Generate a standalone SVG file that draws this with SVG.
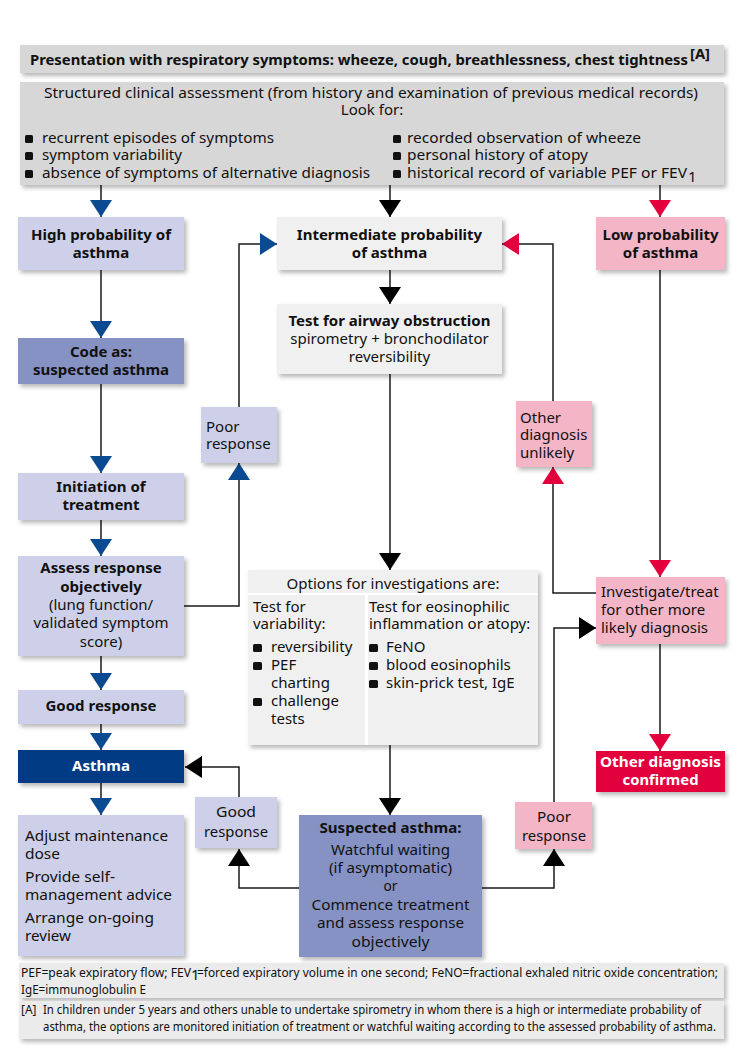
<svg xmlns="http://www.w3.org/2000/svg" width="744" height="1063" viewBox="0 0 744 1063">
<defs>
<filter id="sh" x="-5%" y="-20%" width="115%" height="160%"><feDropShadow dx="2.5" dy="3" stdDeviation="2" flood-color="#000" flood-opacity="0.28"/></filter>
<marker id="ab" markerUnits="userSpaceOnUse" markerWidth="17" markerHeight="22" refX="17" refY="11" orient="auto"><path d="M0,0 L17,11 L0,22 Z" fill="#0b4a91"/></marker>
<marker id="ak" markerUnits="userSpaceOnUse" markerWidth="17" markerHeight="22" refX="17" refY="11" orient="auto"><path d="M0,0 L17,11 L0,22 Z" fill="#000"/></marker>
<marker id="ar" markerUnits="userSpaceOnUse" markerWidth="17" markerHeight="22" refX="17" refY="11" orient="auto"><path d="M0,0 L17,11 L0,22 Z" fill="#e2003d"/></marker>
</defs>
<style>
text{font-family:"Noto Sans","Liberation Sans",sans-serif;font-size:15px;fill:#111}
.b{font-weight:bold}
.c{text-anchor:middle}
.w{fill:#fff}
.s{font-size:12px}
.t{font-size:14.5px}
.box{filter:url(#sh)}
.g{fill:#d7d7d7}
.lg{fill:#f0f0f0}
.lv{fill:#cdd0e8}
.mv{fill:#8691c4}
.nv{fill:#003b84}
.pk{fill:#f4b5c6}
.cr{fill:#e2003d}
.ft{fill:#ebebeb}
.ln{fill:none;stroke:#1a1a1a;stroke-width:1.5}
.mb{marker-end:url(#ab)}
.mk{marker-end:url(#ak)}
.mr{marker-end:url(#ar)}
.bu{fill:#111}
</style>
<rect width="744" height="1063" fill="#fff"/>

<g id="connectors">
<path class="ln mb" d="M101,185 V217"/>
<path class="ln mk" d="M390,185 V217"/>
<path class="ln mr" d="M660,185 V217"/>
<path class="ln mb" d="M101,270 V338"/>
<path class="ln mb" d="M101,384 V473"/>
<path class="ln mb" d="M101,520 V556"/>
<path class="ln mb" d="M101,656 V690"/>
<path class="ln mb" d="M101,724 V750"/>
<path class="ln mb" d="M101,783 V815"/>
<path class="ln mb" d="M184,606 H239 V463"/>
<path class="ln mb" d="M239,407 V244 H277"/>
<path class="ln mk" d="M390,270 V304"/>
<path class="ln mk" d="M390,374 V570"/>
<path class="ln mk" d="M390,745 V815"/>
<path class="ln mk" d="M299,888 H239 V849"/>
<path class="ln mk" d="M239,797 V767 H185"/>
<path class="ln mk" d="M482,888 H554 V849"/>
<path class="ln mk" d="M554,802 V628 H596"/>
<path class="ln mr" d="M660,270 V577"/>
<path class="ln mr" d="M596,593 H553 V467"/>
<path class="ln mr" d="M553,401 V244 H502"/>
<path class="ln mr" d="M660,644 V751"/>
</g>

<g id="presentation">
<rect class="box g" x="20" y="45" width="704" height="28"/>
<text class="b" x="30" y="65" textLength="658" lengthAdjust="spacingAndGlyphs">Presentation with respiratory symptoms: wheeze, cough, breathlessness, chest tightness</text>
<text class="b" x="690" y="59" font-size="8.5" textLength="20" lengthAdjust="spacingAndGlyphs">[A]</text>
</g>

<g id="assessment">
<rect class="box g" x="20" y="82" width="704" height="103"/>
<text x="44" y="98" textLength="654" lengthAdjust="spacingAndGlyphs">Structured clinical assessment (from history and examination of previous medical records)</text>
<text class="c" x="372" y="115">Look for:</text>
<rect class="bu" x="25" y="135" width="8" height="8" rx="1.5"/>
<rect class="bu" x="25" y="152" width="8" height="8" rx="1.5"/>
<rect class="bu" x="25" y="170" width="8" height="8" rx="1.5"/>
<text class="t" x="42" y="143" textLength="232" lengthAdjust="spacingAndGlyphs">recurrent episodes of symptoms</text>
<text class="t" x="42" y="160" textLength="140" lengthAdjust="spacingAndGlyphs">symptom variability</text>
<text class="t" x="42" y="178" textLength="328" lengthAdjust="spacingAndGlyphs">absence of symptoms of alternative diagnosis</text>
<rect class="bu" x="393" y="135" width="8" height="8" rx="1.5"/>
<rect class="bu" x="393" y="152" width="8" height="8" rx="1.5"/>
<rect class="bu" x="393" y="170" width="8" height="8" rx="1.5"/>
<text class="t" x="407" y="143" textLength="234" lengthAdjust="spacingAndGlyphs">recorded observation of wheeze</text>
<text class="t" x="407" y="160" textLength="181" lengthAdjust="spacingAndGlyphs">personal history of atopy</text>
<text class="t" x="407" y="178" textLength="280" lengthAdjust="spacingAndGlyphs">historical record of variable PEF or FEV</text>
<text x="688" y="182" font-size="8.5">1</text>
</g>

<g id="high">
<rect class="box lv" x="18" y="217" width="166" height="53"/>
<text class="b c" x="101" y="240">High probability of</text>
<text class="b c" x="101" y="258">asthma</text>
</g>

<g id="intermediate">
<rect class="box lg" x="277" y="217" width="225" height="53"/>
<text class="b c" x="389.5" y="240">Intermediate probability</text>
<text class="b c" x="389.5" y="258">of asthma</text>
</g>

<g id="low">
<rect class="box pk" x="596" y="217" width="129" height="53"/>
<text class="b c" x="660.5" y="240">Low probability</text>
<text class="b c" x="660.5" y="258">of asthma</text>
</g>

<g id="code">
<rect class="box mv" x="18" y="338" width="166" height="46"/>
<text class="b c" x="101" y="357">Code as:</text>
<text class="b c" x="101" y="375">suspected asthma</text>
</g>

<g id="test-airway">
<rect class="box lg" x="277" y="304" width="225" height="70"/>
<text class="b c" x="389.5" y="326">Test for airway obstruction</text>
<text class="c" x="389.5" y="344">spirometry + bronchodilator</text>
<text class="c" x="389.5" y="362">reversibility</text>
</g>

<g id="poor-top">
<rect class="box lv" x="201" y="407" width="76" height="56"/>
<text x="206" y="432">Poor</text>
<text x="206" y="449">response</text>
</g>

<g id="other-unlikely">
<rect class="box pk" x="516" y="401" width="76" height="66"/>
<text x="520" y="423">Other</text>
<text x="520" y="440">diagnosis</text>
<text x="520" y="458">unlikely</text>
</g>

<g id="initiation">
<rect class="box lv" x="18" y="473" width="166" height="47"/>
<text class="b c" x="101" y="492">Initiation of</text>
<text class="b c" x="101" y="510">treatment</text>
</g>

<g id="assess">
<rect class="box lv" x="18" y="556" width="166" height="100"/>
<text class="b c" x="101" y="573">Assess response</text>
<text class="b c" x="101" y="592">objectively</text>
<text class="c" x="101" y="610">(lung function/</text>
<text class="c" x="101" y="628">validated symptom</text>
<text class="c" x="101" y="647">score)</text>
</g>

<g id="options">
<rect class="box lg" x="248" y="570" width="290" height="175"/>
<rect x="248" y="593" width="290" height="2" fill="#fff"/>
<rect x="365" y="595" width="3" height="150" fill="#fff"/>
<text class="c" x="393" y="589">Options for investigations are:</text>
<text x="253" y="612">Test for</text>
<text x="253" y="629">variability:</text>
<rect class="bu" x="253" y="644" width="9" height="8" rx="1.5"/>
<rect class="bu" x="253" y="662" width="9" height="8" rx="1.5"/>
<rect class="bu" x="253" y="698" width="9" height="8" rx="1.5"/>
<text x="271" y="652">reversibility</text>
<text x="271" y="670">PEF</text>
<text x="271" y="688">charting</text>
<text x="271" y="706">challenge</text>
<text x="271" y="724">tests</text>
<text x="369" y="612">Test for eosinophilic</text>
<text x="369" y="629">inflammation or atopy:</text>
<rect class="bu" x="369" y="644" width="9" height="8" rx="1.5"/>
<rect class="bu" x="369" y="662" width="9" height="8" rx="1.5"/>
<rect class="bu" x="369" y="680" width="9" height="8" rx="1.5"/>
<text x="386" y="652">FeNO</text>
<text x="386" y="670">blood eosinophils</text>
<text x="386" y="688">skin-prick test, IgE</text>
</g>

<g id="investigate">
<rect class="box pk" x="596" y="577" width="129" height="67"/>
<text x="601" y="597">Investigate/treat</text>
<text x="601" y="615">for other more</text>
<text x="601" y="633">likely diagnosis</text>
</g>

<g id="good-top">
<rect class="box lv" x="18" y="690" width="166" height="34"/>
<text class="b c" x="101" y="711">Good response</text>
</g>

<g id="asthma">
<rect class="box nv" x="18" y="750" width="166" height="33"/>
<text class="b c w" x="101" y="771">Asthma</text>
</g>

<g id="other-confirmed">
<rect class="box cr" x="596" y="751" width="129" height="41"/>
<text class="b c w" x="660.5" y="767" textLength="121" lengthAdjust="spacingAndGlyphs">Other diagnosis</text>
<text class="b c w" x="660.5" y="785" textLength="76" lengthAdjust="spacingAndGlyphs">confirmed</text>
</g>

<g id="good-bottom">
<rect class="box lv" x="195" y="797" width="82" height="51"/>
<text class="c" x="236" y="817" textLength="40" lengthAdjust="spacingAndGlyphs">Good</text>
<text class="c" x="236" y="837" textLength="64" lengthAdjust="spacingAndGlyphs">response</text>
</g>

<g id="poor-bottom">
<rect class="box pk" x="515" y="802" width="77" height="47"/>
<text class="c" x="554" y="822" textLength="34" lengthAdjust="spacingAndGlyphs">Poor</text>
<text class="c" x="554" y="841" textLength="64" lengthAdjust="spacingAndGlyphs">response</text>
</g>

<g id="manage">
<rect class="box lv" x="18" y="815" width="166" height="141"/>
<text x="25" y="841" textLength="143" lengthAdjust="spacingAndGlyphs">Adjust maintenance</text>
<text x="25" y="859" textLength="35" lengthAdjust="spacingAndGlyphs">dose</text>
<text x="25" y="882" textLength="90" lengthAdjust="spacingAndGlyphs">Provide self-</text>
<text x="25" y="900" textLength="147" lengthAdjust="spacingAndGlyphs">management advice</text>
<text x="25" y="923" textLength="129" lengthAdjust="spacingAndGlyphs">Arrange on-going</text>
<text x="25" y="941" textLength="46" lengthAdjust="spacingAndGlyphs">review</text>
</g>

<g id="suspected">
<rect class="box mv" x="299" y="815" width="183" height="142"/>
<text class="b c" x="390.5" y="833" textLength="142" lengthAdjust="spacingAndGlyphs">Suspected asthma:</text>
<text class="c" x="390.5" y="855" textLength="119" lengthAdjust="spacingAndGlyphs">Watchful waiting</text>
<text class="c" x="390.5" y="873" textLength="123" lengthAdjust="spacingAndGlyphs">(if asymptomatic)</text>
<text class="c" x="390.5" y="891" textLength="14" lengthAdjust="spacingAndGlyphs">or</text>
<text class="c" x="390.5" y="910" textLength="158" lengthAdjust="spacingAndGlyphs">Commence treatment</text>
<text class="c" x="390.5" y="928" textLength="147" lengthAdjust="spacingAndGlyphs">and assess response</text>
<text class="c" x="390.5" y="947" textLength="78" lengthAdjust="spacingAndGlyphs">objectively</text>
</g>

<g id="footnote-abbrev">
<rect class="box ft" x="19" y="963" width="705" height="35"/>
<text class="s" x="21" y="977" textLength="170" lengthAdjust="spacingAndGlyphs">PEF=peak expiratory flow; FEV</text>
<text x="191" y="980" font-size="7.5">1</text>
<text class="s" x="197" y="977" textLength="521" lengthAdjust="spacingAndGlyphs">=forced expiratory volume in one second; FeNO=fractional exhaled nitric oxide concentration;</text>
<text class="s" x="21" y="994" textLength="125" lengthAdjust="spacingAndGlyphs">IgE=immunoglobulin E</text>
</g>

<g id="footnote-a">
<rect class="box ft" x="19" y="1001" width="705" height="38"/>
<text class="s" x="21" y="1014">[A]</text>
<text class="s" x="43" y="1014" textLength="658" lengthAdjust="spacingAndGlyphs">In children under 5 years and others unable to undertake spirometry in whom there is a high or intermediate probability of</text>
<text class="s" x="43" y="1031" textLength="673" lengthAdjust="spacingAndGlyphs">asthma, the options are monitored initiation of treatment or watchful waiting according to the assessed probability of asthma.</text>
</g>
</svg>
